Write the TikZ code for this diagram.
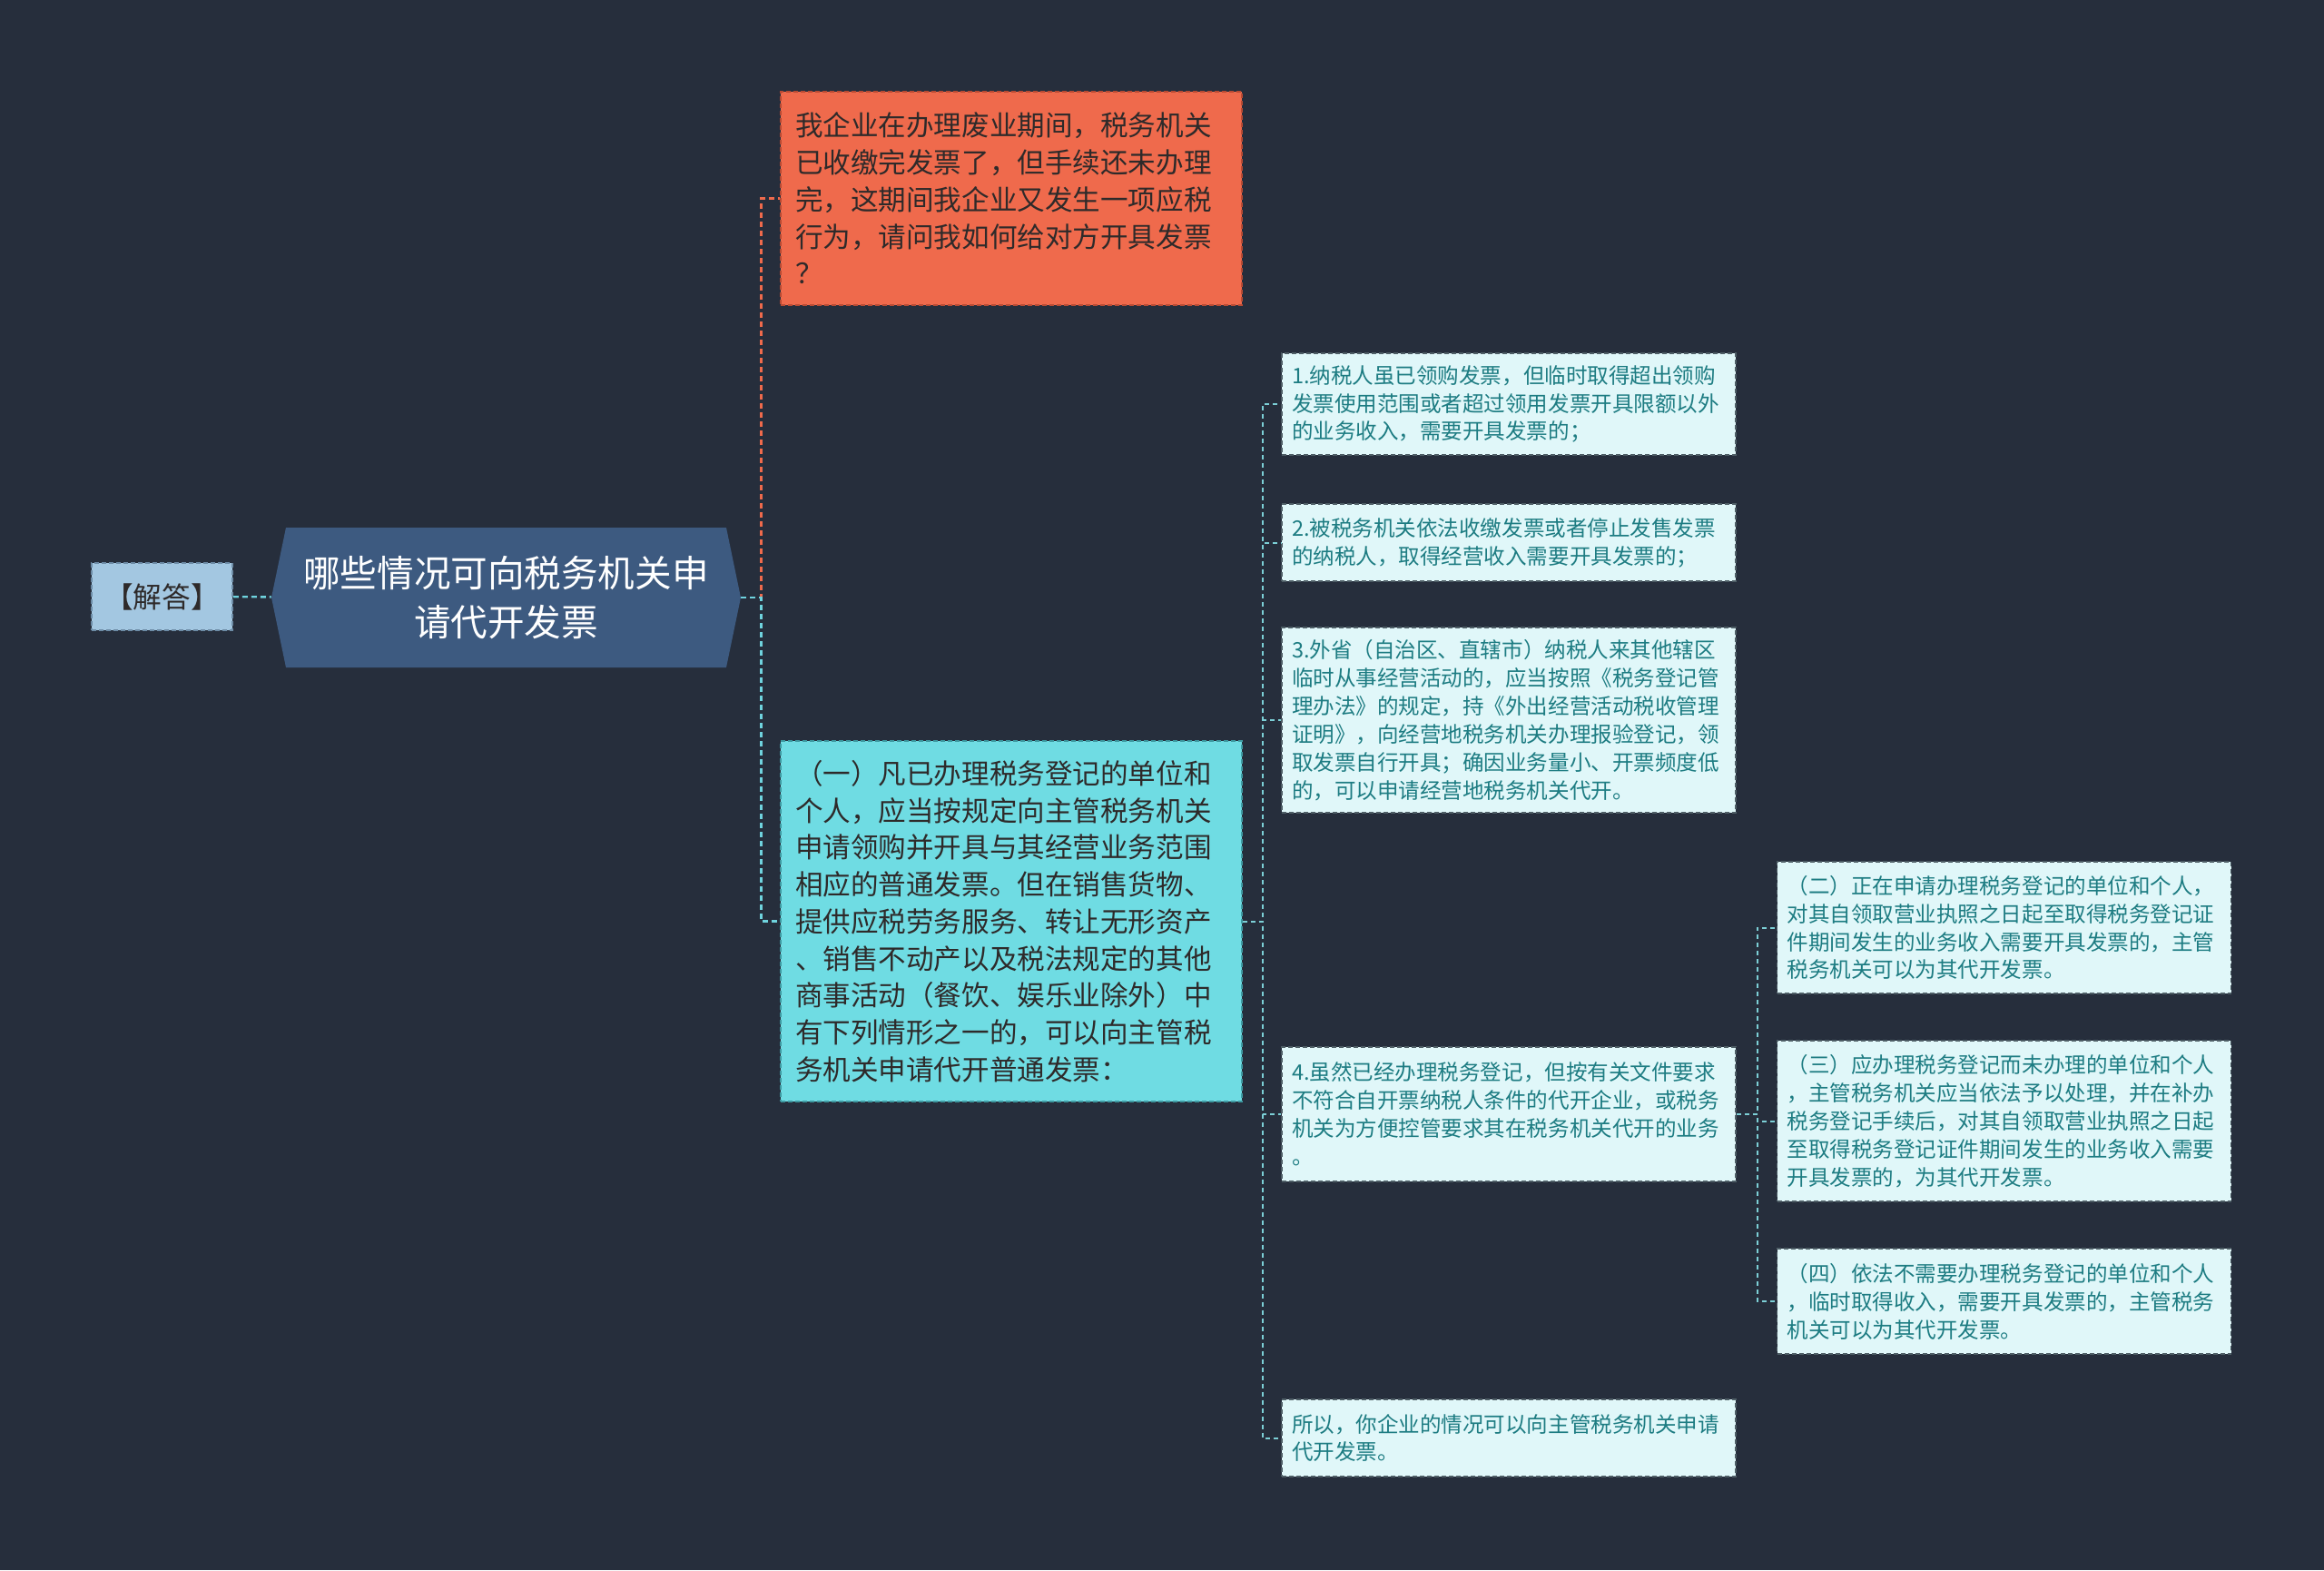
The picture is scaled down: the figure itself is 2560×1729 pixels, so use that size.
\documentclass[tikz,border=0pt]{standalone}
\usepackage{fontspec}
\newfontfamily\cjk{Noto Sans CJK SC}
\definecolor{inkbg}{HTML}{262E3C}
\definecolor{inkhex}{HTML}{3D5A80}
\definecolor{inkans}{HTML}{A3C7E1}
\definecolor{inkansrule}{HTML}{6D8CA6}
\definecolor{inkorange}{HTML}{EF6A4C}
\definecolor{inkorangerule}{HTML}{B84A33}
\definecolor{inkcyan}{HTML}{6FDCE3}
\definecolor{inkcyanrule}{HTML}{3E9AA2}
\definecolor{inkleaf}{HTML}{E0F7F9}
\definecolor{inkleafrule}{HTML}{4E5E66}
\definecolor{inkleaftext}{HTML}{1D7C82}
\definecolor{inkdark}{HTML}{2E2A2A}
\definecolor{inklink}{HTML}{6FD3DE}
\definecolor{inkleaflink}{HTML}{7CCFD6}
\newlength\px \setlength\px{0.02cm}
\tikzset{
  box/.style={draw, line width=1.6\px, dash pattern=on 5\px off 3\px,
    align=left, inner xsep=11\px, inner ysep=0pt},
  leafbox/.style={box, fill=inkleaf, draw=inkleafrule, text=inkleaftext,
    text width=478\px, minimum width=500\px,
    font=\cjk\fontsize{13.4pt}{17.6pt}\selectfont},
  bigbox/.style={box, inner xsep=16\px, text width=476\px, minimum width=508\px,
    font=\cjk\fontsize{17.4pt}{23.2pt}\selectfont},
  link/.style={line width=2.4\px, dash pattern=on 6\px off 4\px},
  leaflink/.style={inkleaflink, line width=2\px, dash pattern=on 5\px off 4\px}
}
\newcommand{\leafbox}[4]{%
  \node[leafbox, minimum height=#3\px] (#1) at (#2) {#4};}

\begin{document}
\begin{tikzpicture}[x=0.02cm, y=-0.02cm]
  \fill[inkbg] (0,0) rectangle (2560,1729);
  \node[box, fill=inkans, draw=inkansrule, text=inkdark, align=center,
        minimum width=155\px, minimum height=74\px,
        font=\cjk\fontsize{18pt}{22pt}\selectfont] (ans) at (178.5,657) {【解答】};
  \coordinate (hexc) at (557.5,658);
  \fill[inkhex] ([shift={(-258.5,0)}]hexc) -- ([shift={(-242.5,-77)}]hexc)
    -- ([shift={(242.5,-77)}]hexc) -- ([shift={(258.5,0)}]hexc)
    -- ([shift={(242.5,77)}]hexc) -- ([shift={(-242.5,77)}]hexc) -- cycle;
  \node[text=white, align=center, minimum width=517\px, minimum height=154\px,
        inner sep=0pt, font=\cjk\fontsize{23.1pt}{30.7pt}\selectfont] (hex) at (hexc)
        {哪些情况可向税务机关申\\请代开发票};
  \node[bigbox, fill=inkorange, draw=inkorangerule, text=inkdark,
        minimum height=235\px] (q) at (1114,218.5)
        {我企业在办理废业期间，税务机关\\已收缴完发票了，但手续还未办理\\完，这期间我企业又发生一项应税\\行为，请问我如何给对方开具发票\\？};
  \node[bigbox, fill=inkcyan, draw=inkcyanrule, text=inkdark,
        minimum height=397\px] (c1) at (1114,1014.5)
        {（一）凡已办理税务登记的单位和\\个人，应当按规定向主管税务机关\\申请领购并开具与其经营业务范围\\相应的普通发票。但在销售货物、\\提供应税劳务服务、转让无形资产\\、销售不动产以及税法规定的其他\\商事活动（餐饮、娱乐业除外）中\\有下列情形之一的，可以向主管税\\务机关申请代开普通发票：};
  \leafbox{r1}{1662,445}{112}{1.纳税人虽已领购发票，但临时取得超出领购\\发票使用范围或者超过领用发票开具限额以外\\的业务收入，需要开具发票的；}
  \leafbox{r2}{1662,597.5}{85}{2.被税务机关依法收缴发票或者停止发售发票\\的纳税人，取得经营收入需要开具发票的；}
  \leafbox{r3}{1662,793}{204}{3.外省（自治区、直辖市）纳税人来其他辖区\\临时从事经营活动的，应当按照《税务登记管\\理办法》的规定，持《外出经营活动税收管理\\证明》，向经营地税务机关办理报验登记，领\\取发票自行开具；确因业务量小、开票频度低\\的，可以申请经营地税务机关代开。}
  \leafbox{r4}{1662,1227}{148}{4.虽然已经办理税务登记，但按有关文件要求\\不符合自开票纳税人条件的代开企业，或税务\\机关为方便控管要求其在税务机关代开的业务\\。}
  \leafbox{r5}{1662,1583.5}{85}{所以，你企业的情况可以向主管税务机关申请\\代开发票。}
  \leafbox{s2}{2207.5,1021.5}{145}{（二）正在申请办理税务登记的单位和个人，\\对其自领取营业执照之日起至取得税务登记证\\件期间发生的业务收入需要开具发票的，主管\\税务机关可以为其代开发票。}
  \leafbox{s3}{2207.5,1234.5}{177}{（三）应办理税务登记而未办理的单位和个人\\，主管税务机关应当依法予以处理，并在补办\\税务登记手续后，对其自领取营业执照之日起\\至取得税务登记证件期间发生的业务收入需要\\开具发票的，为其代开发票。}
  \leafbox{s4}{2207.5,1433}{116}{（四）依法不需要办理税务登记的单位和个人\\，临时取得收入，需要开具发票的，主管税务\\机关可以为其代开发票。}
  \draw[link, inklink] (ans) -- (hex);
  \draw[link, inkorange] (hex.east) -- ++(22,0) |- (q.west);
  \draw[link, inklink] (hex.east) -- ++(22,0) |- (c1.west);
  \foreach \r in {r1,r2,r3,r4,r5}
    \draw[leaflink] (c1.east) -- ++(22,0) |- (\r.west);
  \foreach \s in {s2,s3,s4}
    \draw[leaflink] (r4.east) -- ++(23,0) |- (\s.west);
\end{tikzpicture}
\end{document}
